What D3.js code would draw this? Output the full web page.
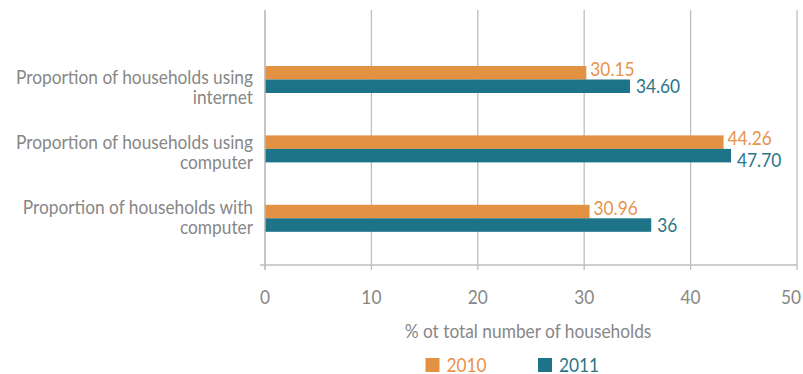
<!DOCTYPE html>
<html>
<head>
<meta charset="utf-8">
<script src="https://cdn.jsdelivr.net/npm/d3@7"></script>
<style>
  html, body { margin: 0; padding: 0; background: #fff; }
  svg { display: block; font-family: Lato, "Open Sans", sans-serif; }
</style>
</head>
<body>
<svg id="chart" width="803" height="374"></svg>
<script>
// ---- data ----
const categories = [
  "Proportion of households using internet",
  "Proportion of households using computer",
  "Proportion of households with computer"
];
const categoryLines = [
  ["Proportion of households using", "internet"],
  ["Proportion of households using", "computer"],
  ["Proportion of households with", "computer"]
];
const seriesNames = ["2010", "2011"];
// bar lengths as drawn in the picture
const values2010 = [30.2, 43.1, 30.5];
const values2011 = [34.3, 43.8, 36.3];
// data labels as printed
const labels2010 = ["30.15", "44.26", "30.96"];
const labels2011 = ["34.60", "47.70", "36"];
const xTicks = [0, 10, 20, 30, 40, 50];
const xTitle = "% ot total number of households";

// ---- style ----
const colors = { "2010": "#E39142", "2011": "#1D7387" };
const labelColors = { "2010": "#E8924A", "2011": "#2A7688" };
const textGray = "#878787";
const gridGray = "#BEBEBE";
const FS = 20;
const SQUEEZE = 0.865;

const svg = d3.select("#chart");
const plotTop = 10, plotBottom = 265;

const x = d3.scaleLinear().domain([0, 50]).range([265, 797]);
const yBar = d3.scalePoint().domain(categories).range([79.5, 218.3]);
const yLab = d3.scalePoint().domain(categories).range([87, 217]);
const barH = 13.5;

function squeezeNode(node) {
  const w = node.getComputedTextLength();
  d3.select(node).attr("textLength", w * SQUEEZE).attr("lengthAdjust", "spacingAndGlyphs");
  return w * SQUEEZE;
}
function squeeze(sel) { sel.each(function () { squeezeNode(this); }); }

// gridlines
svg.append("g").selectAll("line").data(xTicks).join("line")
  .attr("x1", d => x(d)).attr("x2", d => x(d))
  .attr("y1", plotTop).attr("y2", plotBottom + 5)
  .attr("stroke", gridGray).attr("stroke-width", 1.3);

// x axis line
svg.append("line")
  .attr("x1", x(0) - 5).attr("x2", x(50))
  .attr("y1", plotBottom).attr("y2", plotBottom)
  .attr("stroke", gridGray).attr("stroke-width", 1.3);

// x tick labels (last one kept inside the page)
svg.append("g").selectAll("text").data(xTicks).join("text")
  .attr("x", d => x(d)).attr("y", 304)
  .attr("text-anchor", "middle")
  .attr("font-size", FS).attr("fill", textGray)
  .text(d => d)
  .each(function (d) {
    const w = squeezeNode(this);
    if (x(d) + w / 2 > 801) d3.select(this).attr("x", 801 - w / 2);
  });

// x title
svg.append("text")
  .attr("x", (x(0) + x(50)) / 2 - 3).attr("y", 338)
  .attr("text-anchor", "middle")
  .attr("font-size", FS).attr("fill", textGray)
  .text(xTitle).call(squeeze);

// category labels
const catG = svg.append("g").selectAll("text").data(categories).join("text")
  .attr("text-anchor", "end")
  .attr("font-size", FS).attr("fill", textGray);
catG.each(function (d, i) {
  const t = d3.select(this);
  categoryLines[i].forEach((line, j) => {
    t.append("tspan")
      .attr("x", 253)
      .attr("y", yLab(d) - 3 + j * 20)
      .text(line);
  });
});
catG.selectAll("tspan").each(function () { squeezeNode(this); });

// bars
const rows = categories.map((c, i) => ({ c, v10: values2010[i], v11: values2011[i], l10: labels2010[i], l11: labels2011[i] }));
const g = svg.append("g");
g.selectAll("rect.b10").data(rows).join("rect").attr("class", "b10")
  .attr("x", x(0)).attr("y", d => yBar(d.c) - barH)
  .attr("width", d => x(d.v10) - x(0)).attr("height", barH)
  .attr("fill", colors["2010"]);
g.selectAll("rect.b11").data(rows).join("rect").attr("class", "b11")
  .attr("x", x(0)).attr("y", d => yBar(d.c))
  .attr("width", d => x(d.v11) - x(0)).attr("height", barH)
  .attr("fill", colors["2011"]);

// y axis line (over bars)
svg.append("line")
  .attr("x1", x(0)).attr("x2", x(0))
  .attr("y1", plotTop).attr("y2", plotBottom + 5)
  .attr("stroke", gridGray).attr("stroke-width", 1.3);

// data labels
const l10 = g.selectAll("text.l10").data(rows).join("text").attr("class", "l10")
  .attr("x", d => x(d.v10) + 4).attr("y", d => yBar(d.c) - 3.5)
  .attr("font-size", FS).attr("fill", labelColors["2010"])
  .text(d => d.l10);
const ends10 = [];
l10.each(function (d, i) { ends10[i] = x(d.v10) + 4 + squeezeNode(this); });

g.selectAll("text.l11").data(rows).join("text").attr("class", "l11")
  .attr("x", d => x(d.v11) + 6)
  .attr("y", (d, i) => {
    // push down when it would collide with the 2010 label above
    const start = x(d.v11) + 6;
    const collide = start < ends10[i] && start > x(d.v10) - 40;
    return yBar(d.c) + barH + (collide ? 4.5 : 0);
  })
  .attr("font-size", FS).attr("fill", labelColors["2011"])
  .text(d => d.l11).call(squeeze);

// legend
const legX = [425.5, 538];
const leg = svg.append("g").selectAll("g").data(seriesNames).join("g")
  .attr("transform", (d, i) => `translate(${legX[i]},358)`);
leg.append("rect").attr("width", 14).attr("height", 14).attr("fill", d => colors[d]);
leg.append("text").attr("x", 21).attr("y", 13.5)
  .attr("font-size", FS).attr("fill", d => labelColors[d])
  .text(d => d).call(squeeze);
</script>
</body>
</html>
